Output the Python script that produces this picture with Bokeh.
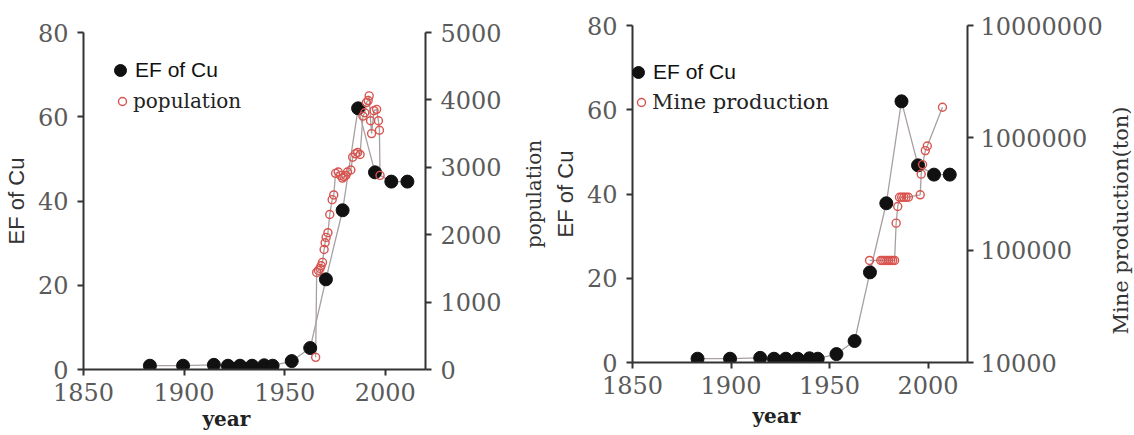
from bokeh.plotting import figure
from bokeh.models import (Range1d, LinearAxis, LogAxis, LogScale, FixedTicker,
                          Legend, LegendItem, Title, ColumnDataSource)
from bokeh.core.properties import value
from bokeh.layouts import row, column
from bokeh.embed import file_html
from bokeh.resources import INLINE

# ---------------- data ----------------
ef_years = [1883, 1899.5, 1914.8, 1921.8, 1927.8, 1933.8, 1939.8, 1944,
            1953.5, 1962.7, 1970.5, 1978.8, 1986.5, 1994.9, 2003, 2011]
ef_values = [0.9, 0.9, 1.1, 0.9, 0.9, 0.9, 1.0, 0.9,
             2.0, 5.1, 21.4, 37.8, 62.0, 46.8, 44.6, 44.6]

pop_years = [1965.4, 1965.9, 1966.8, 1967.6, 1968.1, 1968.8, 1969.6, 1970.1,
             1970.6, 1971.5, 1972.4, 1973.6, 1974.4, 1975.3, 1976.6, 1977.8,
             1978.7, 1979.5, 1980.4, 1981.2, 1982.9, 1983.8, 1985.2, 1986.3,
             1987.5, 1988.9, 1989.8, 1990.6, 1991.5, 1992.0, 1992.7, 1993.2,
             1994.4, 1995.7, 1996.6, 1997.1, 1997.4]
pop_values = [180, 1440, 1470, 1500, 1540, 1590, 1780, 1880,
              1960, 2030, 2300, 2520, 2590, 2910, 2930, 2880,
              2840, 2860, 2880, 2930, 2960, 3150, 3200, 3220,
              3190, 3760, 3810, 3960, 3990, 4060, 3690, 3500,
              3840, 3860, 3690, 3550, 2880]

mine_years = [1970.3, 1976, 1977, 1978, 1979, 1980, 1981, 1982, 1983,
              1983.8, 1984.6, 1985.5, 1986.6, 1987.7, 1988.8, 1990,
              1996, 1996.5, 1997.2, 1998.6, 1999.6, 2007.3]
mine_values = [81000, 81000, 81000, 81000, 81000, 81000, 81000, 81000, 81000,
               174000, 245000, 296000, 296000, 296000, 296000, 296000,
               311000, 475000, 578000, 770000, 845000, 1870000]

x_ticks = [1850, 1900, 1950, 2000]
ef_ticks = [0, 20, 40, 60, 80]
pop_ticks = [0, 1000, 2000, 3000, 4000, 5000]
mine_ticks = [10000, 100000, 1000000, 10000000]
mine_tick_labels = ["10000", "100000", "1000000", "10000000"]

# ---------------- style ----------------
SERIF = "DejaVu Serif"
SANS = "Liberation Sans"
TICK_COLOR = "#5a5a5a"
AXIS_COLOR = "#333333"
LINE_GRAY = "#a8a0a0"
RED = "#d9534f"


def style_axis(ax, ticks, standoff=9):
    ax.ticker = FixedTicker(ticks=ticks)
    ax.axis_line_color = AXIS_COLOR
    ax.axis_line_width = 2
    ax.major_tick_line_color = AXIS_COLOR
    ax.major_tick_line_width = 2
    ax.major_tick_out = 6
    ax.major_tick_in = 0
    ax.minor_tick_line_color = None
    ax.major_label_text_font = SERIF
    ax.major_label_text_font_size = "24px"
    ax.major_label_text_color = TICK_COLOR
    ax.major_label_standoff = standoff
    ax.axis_label_text_font_style = "normal"
    ax.axis_label_text_color = "#333333"


def label_only_axis(ax, text, font, size, standoff):
    ax.ticker = FixedTicker(ticks=[])
    ax.axis_line_color = None
    ax.major_tick_line_color = None
    ax.minor_tick_line_color = None
    ax.axis_label = text
    ax.axis_label_text_font = font
    ax.axis_label_text_font_size = size
    ax.axis_label_text_font_style = "normal"
    ax.axis_label_text_color = "#333333"
    ax.axis_label_standoff = standoff


def make_panel(width, border_left, border_right, border_top, border_bottom,
               year_offset, year_standoff):
    p = figure(width=width, height=435, x_range=Range1d(1850, 2020),
               y_range=Range1d(0, 80), output_backend="svg",
               toolbar_location=None, min_border_left=border_left,
               min_border_right=border_right, min_border_top=border_top,
               min_border_bottom=border_bottom)
    p.outline_line_color = None
    p.grid.visible = False
    p.background_fill_color = "white"
    p.border_fill_color = "white"
    style_axis(p.xaxis[0], x_ticks, standoff=7)
    style_axis(p.yaxis[0], ef_ticks)
    p.yaxis[0].axis_label = "EF of Cu"
    p.yaxis[0].axis_label_text_font = SANS
    p.yaxis[0].axis_label_text_font_size = "22px"
    p.yaxis[0].axis_label_standoff = 6
    p.add_layout(Title(text="year", align="left", offset=year_offset,
                       text_font=SERIF, text_font_size="20px", text_font_style="bold",
                       text_color="#222222", standoff=year_standoff), "below")
    return p


ef_src = ColumnDataSource(dict(x=ef_years, y=ef_values))
pop_src = ColumnDataSource(dict(x=pop_years, y=pop_values))
mine_src = ColumnDataSource(dict(x=mine_years, y=mine_values))

# ---------------- left panel ----------------
p1 = make_panel(518, 83, 93, 32, 66, 119, 3)
p1.extra_y_ranges = {"pop": Range1d(0, 5000)}
ax_pop = LinearAxis(y_range_name="pop")
style_axis(ax_pop, pop_ticks)
p1.add_layout(ax_pop, "right")

p1.line("x", "y", source=ef_src, line_color=LINE_GRAY, line_width=1.3)
p1.line("x", "y", source=pop_src, y_range_name="pop", line_color=LINE_GRAY, line_width=1.3)
r_ef1 = p1.scatter("x", "y", source=ef_src, size=13, fill_color="#111111", line_color="#111111")
r_pop = p1.scatter("x", "y", source=pop_src, y_range_name="pop", size=8,
                   fill_color=None, line_color=RED, line_width=1.4)

leg_a = Legend(items=[LegendItem(label=value("EF of Cu"), renderers=[r_ef1])],
               location=(22, 284), label_text_font=SANS, label_text_font_size="21px",
               glyph_width=30, glyph_height=30, label_standoff=0, padding=0, margin=0,
               border_line_alpha=0, background_fill_alpha=0, label_text_color="#111111")
leg_b = Legend(items=[LegendItem(label=value("population"), renderers=[r_pop])],
               location=(29, 256), label_text_font=SERIF, label_text_font_size="20px",
               glyph_width=20, glyph_height=20, label_standoff=1, padding=0, margin=0,
               border_line_alpha=0, background_fill_alpha=0, label_text_color="#222222")
p1.add_layout(leg_a)
p1.add_layout(leg_b)

# ---------------- right panel ----------------
p2 = make_panel(587, 114, 135, 25, 73, 120, 11)
# title of the left panel's population axis sits in the gap between the panels
ax_poplab = LinearAxis()
label_only_axis(ax_poplab, "population", SERIF, "20px", 4)
p2.add_layout(ax_poplab, "left")

p2.extra_y_ranges = {"mine": Range1d(1e4, 1e7)}
p2.extra_y_scales = {"mine": LogScale()}
ax_mine = LogAxis(y_range_name="mine")
style_axis(ax_mine, mine_ticks, standoff=7)
ax_mine.major_label_overrides = {t: l for t, l in zip(mine_ticks, mine_tick_labels)}
p2.add_layout(ax_mine, "right")

p2.line("x", "y", source=ef_src, line_color=LINE_GRAY, line_width=1.3)
p2.line("x", "y", source=mine_src, y_range_name="mine", line_color=LINE_GRAY, line_width=1.3)
r_ef2 = p2.scatter("x", "y", source=ef_src, size=13, fill_color="#111111", line_color="#111111")
r_mine = p2.scatter("x", "y", source=mine_src, y_range_name="mine", size=8,
                    fill_color=None, line_color=RED, line_width=1.4)

leg_c = Legend(items=[LegendItem(label=value("EF of Cu"), renderers=[r_ef2])],
               location=(-9, 275), label_text_font=SANS, label_text_font_size="21px",
               glyph_width=30, glyph_height=30, label_standoff=0, padding=0, margin=0,
               border_line_alpha=0, background_fill_alpha=0, label_text_color="#111111")
leg_d = Legend(items=[LegendItem(label=value("Mine production"), renderers=[r_mine])],
               location=(-1, 248), label_text_font=SERIF, label_text_font_size="21px",
               glyph_width=20, glyph_height=20, label_standoff=1, padding=0, margin=0,
               border_line_alpha=0, background_fill_alpha=0, label_text_color="#222222")
p2.add_layout(leg_c)
p2.add_layout(leg_d)

# ---------------- title strip of the log axis ----------------
p3 = figure(width=29, height=435, x_range=Range1d(0, 1), y_range=Range1d(0, 1),
            output_backend="svg", toolbar_location=None, x_axis_location=None,
            y_axis_location="left", min_border_left=0, min_border_right=0,
            min_border_top=25, min_border_bottom=20)
p3.outline_line_color = None
p3.grid.visible = False
label_only_axis(p3.yaxis[0], "Mine production(ton)", SERIF, "21px", -3)

layout = row(column(p1), column(p2), column(p3))
open("out.html", "w").write(file_html(layout, INLINE))
